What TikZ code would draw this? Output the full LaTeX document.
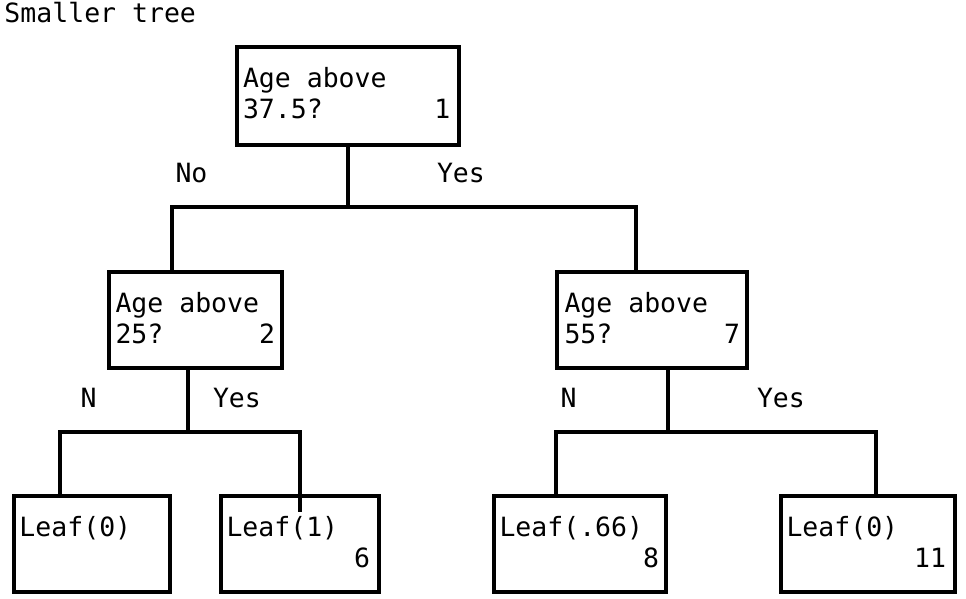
\documentclass[tikz,border=0pt]{standalone}
\usepackage{fontspec}
\newfontfamily\mono{DejaVu Sans Mono}
\begin{document}
\begin{tikzpicture}[x=1pt,y=-1pt,
  box/.style={draw=black, line width=4pt, rectangle, inner sep=0pt, fill=none},
  conn/.style={draw=black, line width=4pt},
  txt/.style={anchor=base west, inner sep=0pt, outer sep=0pt, font={\mono\fontsize{26.5}{31}\selectfont}}
]
\useasboundingbox[fill=white] (0,0) rectangle (966,598);

% boxes
\node[box, minimum width=222pt, minimum height=98pt] (root) at (348,96) {};
\node[box, minimum width=173pt, minimum height=96pt] (n2) at (195.5,320) {};
\node[box, minimum width=190pt, minimum height=96pt] (n7) at (652,320) {};
\node[box, minimum width=156pt, minimum height=96pt] (l3) at (92,544) {};
\node[box, minimum width=158pt, minimum height=96pt] (l6) at (300,544) {};
\node[box, minimum width=172pt, minimum height=96pt] (l8) at (580,544) {};
\node[box, minimum width=174pt, minimum height=96pt] (l11) at (868,544) {};

% texts
\node[txt] (title) at (4.5,22) {Smaller tree};
\node[txt] (t1) at (243,87) {\begin{tabular}[t]{@{}l@{}}Age above\\37.5?\ \ \ \ \ \ \ 1\end{tabular}};
\node[txt] (t2) at (115.5,312) {\begin{tabular}[t]{@{}l@{}}Age above\\25?\ \ \ \ \ \ 2\end{tabular}};
\node[txt] (t7) at (564.5,312) {\begin{tabular}[t]{@{}l@{}}Age above\\55?\ \ \ \ \ \ \ 7\end{tabular}};
\node[txt] (t3) at (19.5,536) {Leaf(0)};
\node[txt] (t6) at (226.5,536) {\begin{tabular}[t]{@{}l@{}}Leaf(1)\\\ \ \ \ \ \ \ \ 6\end{tabular}};
\node[txt] (t8) at (499.5,536) {\begin{tabular}[t]{@{}l@{}}Leaf(.66)\\\ \ \ \ \ \ \ \ \ 8\end{tabular}};
\node[txt] (t11) at (786.5,536) {\begin{tabular}[t]{@{}l@{}}Leaf(0)\\\ \ \ \ \ \ \ \ 11\end{tabular}};

% edge labels
\node[txt] (no1) at (175.5,182) {No};
\node[txt] (yes1) at (437,182) {Yes};
\node[txt] (no2) at (80.5,407) {N};
\node[txt] (yes2) at (213,407) {Yes};
\node[txt] (no7) at (560.5,407) {N};
\node[txt] (yes7) at (757,407) {Yes};

% connector junction coordinates
\coordinate (j1) at (348,207);
\coordinate (j1l) at (172,207);
\coordinate (j1r) at (636,207);
\coordinate (j2) at (188,432);
\coordinate (j2l) at (60,432);
\coordinate (j2r) at (300,432);
\coordinate (j6end) at (300,512);
\coordinate (j7) at (668,432);
\coordinate (j7l) at (556,432);
\coordinate (j7r) at (876,432);

% connectors
\draw[conn] (root.south) -- (j1);
\draw[conn] (j1l |- n2.north) -- (j1l) -- (j1r) -- (j1r |- n7.north);
\draw[conn] (j2 |- n2.south) -- (j2);
\draw[conn] (j2l |- l3.north) -- (j2l) -- (j2r) -- (j6end);
\draw[conn] (j7 |- n7.south) -- (j7);
\draw[conn] (j7l |- l8.north) -- (j7l) -- (j7r) -- (j7r |- l11.north);
\end{tikzpicture}
\end{document}
